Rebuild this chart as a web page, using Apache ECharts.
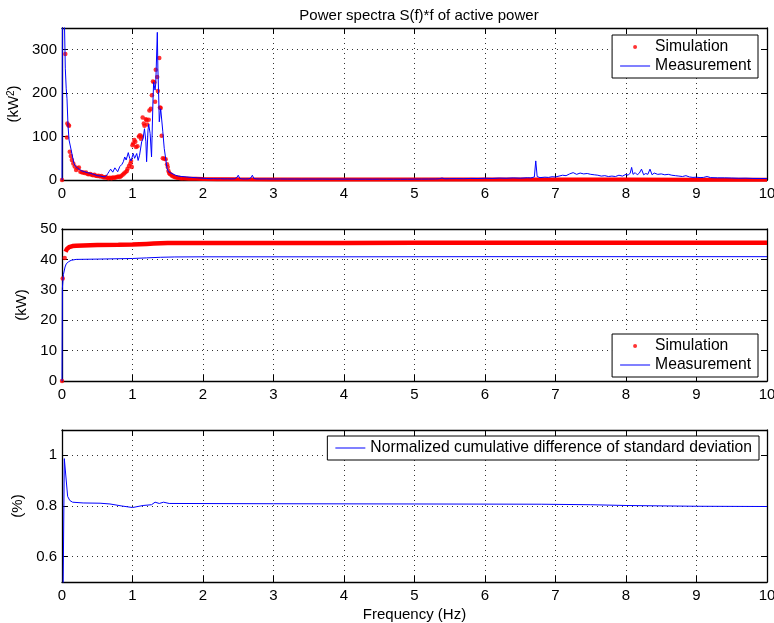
<!DOCTYPE html>
<html><head><meta charset="utf-8">
<script src="https://cdn.jsdelivr.net/npm/echarts@6/dist/echarts.min.js"></script>
<style>html,body{margin:0;padding:0;background:#fff}#c{width:774px;height:623px}</style>
</head><body><div id="c"></div>
<script>
// ---------- DATA ----------
const xTickValues = [0,1,2,3,4,5,6,7,8,9,10];
const psdTicks = [0,100,200,300];
const cumTicks = [0,10,20,30,40,50];
const diffTicks = [0.6,0.8,1];

// Top: power spectrum S(f)*f, simulation (dots)
const simPsdFreq = [0,0.047,0.07,0.076,0.09,0.1,0.11,0.125,0.14,0.16,0.18,0.2,0.22,0.24,0.26,0.28,0.3,0.32,0.34,0.36,0.38,0.4,0.42,0.44,0.46,0.48,0.5,0.52,0.54,0.56,0.58,0.6,0.62,0.64,0.66,0.68,0.7,0.72,0.74,0.76,0.78,0.8,0.82,0.84,0.86,0.88,0.9,0.92,0.93,0.95,0.97,0.98,0.99,1.0,1.01,1.026,1.04,1.05,1.07,1.09,1.106,1.12,1.13,1.144,1.16,1.17,1.19,1.2,1.21,1.23,1.24,1.26,1.275,1.29,1.31,1.32,1.33,1.35,1.36,1.38,1.39,1.4,1.414,1.43,1.45,1.47,1.49,1.5,1.51,1.52,1.53,1.55,1.56,1.58,1.6,1.62,1.64,1.66,1.68,1.7];
const simPsdVal  = [0,290,98,130,126,125,65,55,46,38,31,23,27,29,19,18,17,16,17,14,13,14,12,11,12,10,9,10,8,9,7,6,7,5,4,5,4,6,5,6,7,8,7,9,12,15,18,21,26,32,38,44,30,80,84,92,88,76,78,100,103,95,100,144,130,125,140,138,128,139,160,164,195,227,225,180,254,237,205,281,167,166,102,50,49,48,36,30,21,16,14,12,10,8,7,6,5,5,4,4];
// Top: simulation dots from 1.7 Hz on, so dense they merge into a band
const simPsdTailFreq = [1.7,1.75,1.8,1.9,2.0,2.2,2.5,3.0,3.5,4.0,4.5,5.0,6.0,7.0,8.0,9.0,10.0];
const simPsdTailVal  = [4,3.5,3,2.6,2.2,1.9,1.6,1.4,1.3,1.2,1.0,0.9,0.9,0.9,0.9,0.8,0.8];
// Top: measurement (line)
const measPsdFreq = [0,0.012,0.028,0.047,0.06,0.071,0.085,0.1,0.12,0.13,0.15,0.17,0.19,0.22,0.25,0.28,0.32,0.36,0.41,0.45,0.5,0.55,0.6,0.63,0.65,0.67,0.69,0.72,0.75,0.77,0.79,0.82,0.85,0.87,0.89,0.91,0.92,0.94,0.96,0.98,1.0,1.01,1.03,1.06,1.08,1.1,1.13,1.15,1.17,1.19,1.2,1.22,1.23,1.25,1.27,1.29,1.3,1.32,1.33,1.352,1.36,1.37,1.38,1.4,1.43,1.45,1.47,1.49,1.51,1.53,1.56,1.61,1.65,1.7,1.77,1.84,1.92,2.0,
  2.05,2.1,2.15,2.2,2.25,2.3,2.35,2.4,2.45,2.48,2.5,2.52,2.55,2.6,2.65,2.68,2.7,2.72,2.75,2.8,2.9,3.0,3.1,3.2,3.3,3.4,3.5,3.6,3.7,3.8,3.9,4.0,4.1,4.2,4.3,4.4,4.5,4.6,4.7,4.8,4.9,5.0,5.1,5.2,5.3,5.35,5.39,5.43,5.5,5.6,5.7,5.8,5.9,6.0,6.1,6.2,6.3,6.4,6.5,6.6,6.65,6.7,6.72,6.74,6.78,6.85,6.9,6.95,7.0,7.05,7.1,7.15,7.2,7.25,7.3,7.35,7.4,7.45,7.5,7.55,7.6,7.65,7.7,7.75,7.8,7.85,7.9,7.95,8.0,8.03,8.06,8.08,8.1,8.13,8.16,8.19,8.22,8.25,8.28,8.31,8.34,8.37,8.4,8.45,8.5,8.55,8.6,8.65,8.7,8.75,8.8,8.85,8.9,8.95,9.0,9.05,9.1,9.15,9.2,9.3,9.4,9.5,9.6,9.7,9.8,9.9,10.0];
const measPsdVal  = [0,700,420,256,210,187,126,92,88,69,53,38,32,27,24,21,19,17,15,13,10,9,7,10,15,20,25,18,28,24,19,31,36,42,53,46,44,63,50,44,48,61,50,61,45,57,88,95,118,88,42,115,128,107,53,180,225,207,222,340,256,203,134,164,111,73,50,27,19,17,15,11,9,8,7,6,5,4,
  3.5,3,3.2,2.8,3,2.6,2.8,2.5,2.8,6,11,4,2.6,2.5,2.7,5,11,4,2.6,2.4,2.5,2.3,2.4,2.2,2.3,2.1,2.2,2.1,2.2,2.0,2.1,2.0,2.1,1.9,2.0,1.9,2.0,1.8,1.9,1.8,1.9,2.0,2.1,2.2,2.4,2.8,4.5,2.8,3,3.2,3,3.6,3.4,4,3.6,4.4,4,4.8,4.2,5.2,4.8,7,44,8,5.5,6.5,6,7.5,7,9,11,10,14,17,13,16,14,15,13,12,11,9,10,8,9,8,11,9,13,11,16,29,13,17,12,16,25,12,15,13,25,12,16,13,14,12,13,11,10,9,8,10,7,6,6.5,5.5,6,8,5.5,5,5,4.5,4,4.2,3.6,3.5,3.2];

// Middle: cumulative (kW)
const simCumDotFreq = [0,0.01,0.038];
const simCumDotVal  = [0,33.7,40.5];
const simCumFreq = [0.05,0.06,0.07,0.085,0.1,0.12,0.15,0.2,0.3,0.5,0.8,1.0,1.1,1.2,1.3,1.4,1.5,1.6,2.0,3.0,4.0,5.0,6.0,7.0,8.0,9.0,10.0];
const simCumVal  = [42.5,43.0,43.4,43.8,44.0,44.2,44.4,44.5,44.6,44.7,44.8,44.9,45.0,45.1,45.2,45.3,45.4,45.4,45.4,45.4,45.4,45.45,45.45,45.45,45.45,45.45,45.45];
const measCumFreq = [0,0.005,0.02,0.043,0.06,0.09,0.13,0.2,0.5,1.0,1.2,1.4,1.6,2.0,4.0,6.0,8.0,10.0];
const measCumVal  = [0,30.5,35,37.5,38.5,39.2,39.7,40.0,40.1,40.3,40.5,40.7,40.8,40.85,40.85,40.9,40.9,40.9];

// Bottom: normalized cumulative difference (%)
const diffFreq = [0,0.033,0.08,0.11,0.15,0.3,0.54,0.68,0.85,1.0,1.15,1.27,1.32,1.38,1.44,1.52,3.0,5.0,6.8,7.5,8.0,9.0,10.0];
const diffVal  = [0,0.987,0.838,0.822,0.815,0.812,0.811,0.808,0.8,0.794,0.802,0.805,0.815,0.81,0.815,0.81,0.809,0.808,0.807,0.805,0.802,0.799,0.798];

// ---------- CHART ----------
const FONT = 'Liberation Sans, Arial, Helvetica, sans-serif';
const FS = 15;
const zip = (xs, ys) => xs.map((x, i) => [x, ys[i]]);
const grids = [
  {left:62, top:28, width:705, height:152},
  {left:62, top:229, width:705, height:152},
  {left:62, top:430, width:705, height:152}
].map(g => Object.assign(g, {containLabel:false, outerBoundsMode:'none'}));

const axisLine = {onZero:false, lineStyle:{color:'#000', width:1.3}};
const tick = {inside:true, length:6, lineStyle:{color:'#000', width:1}};
const split = {show:true, lineStyle:{color:'#333', type:[1,4], width:1}};
const lbl = {color:'#000', fontSize:FS, fontFamily:FONT};

const xAxis = [], yAxis = [];
function addAxes(g, ymin, ymax, yTicks, yName, yGap, xName) {
  xAxis.push({gridIndex:g, type:'value', min:0, max:10, interval:1, position:'bottom',
    axisLine, axisTick:tick, splitLine:split,
    axisLabel:Object.assign({margin:6}, lbl),
    name:xName || '', nameLocation:'middle', nameGap:25,
    nameTextStyle:{color:'#000', fontSize:FS, fontFamily:FONT}});
  xAxis.push({gridIndex:g, type:'value', min:0, max:10, interval:1, position:'top',
    axisLine, axisTick:tick, splitLine:{show:false}, axisLabel:{show:false}});
  yAxis.push({gridIndex:g, type:'value', min:ymin, max:ymax, position:'left',
    axisLine, axisTick:Object.assign({customValues:yTicks}, tick), splitLine:split,
    axisLabel:Object.assign({margin:5, customValues:yTicks}, lbl),
    name:yName, nameLocation:'middle', nameGap:yGap, nameRotate:90,
    nameTextStyle:{color:'#000', fontSize:FS, fontFamily:FONT,
      rich:{sup:{fontSize:10, verticalAlign:'top', color:'#000', fontFamily:FONT}}}});
  yAxis.push({gridIndex:g, type:'value', min:ymin, max:ymax, position:'right',
    axisLine, axisTick:Object.assign({customValues:yTicks}, tick), splitLine:{show:false},
    axisLabel:{show:false, customValues:yTicks}});
}
addAxes(0, 0, 350, psdTicks, '(kW{sup|2})', 38);
addAxes(1, 0, 50, cumTicks, '(kW)', 30);
addAxes(2, 0.5, 1.1, diffTicks, '(%)', 34, 'Frequency (Hz)');

const RED = '#ff0000', BLUE = '#0000ff';
const LINE_ICON = 'path://M0,0 H30 V1 H0 Z';
const legendBase = {orient:'vertical', itemWidth:30, itemHeight:4, itemGap:3,
  padding:[4,7,4,8], borderColor:'#000', borderWidth:1, borderRadius:0,
  backgroundColor:'#fff', selectedMode:false,
  textStyle:{fontSize:15.7, color:'#000', fontFamily:FONT}};
const simMeasLegend = [{name:'Simulation', icon:'circle'}, {name:'Measurement', icon:LINE_ICON}];

const option = {
  animation:false,
  backgroundColor:'#fff',
  title:{text:'Power spectra S(f)*f of active power', left:414, textAlign:'center', top:3,
    textStyle:{fontSize:FS, fontWeight:'normal', color:'#000', fontFamily:FONT}},
  grid:grids,
  xAxis, yAxis,
  legend:[
    Object.assign({}, legendBase, {right:16, top:35, data:simMeasLegend}),
    Object.assign({}, legendBase, {right:16, top:334, data:simMeasLegend}),
    Object.assign({}, legendBase, {right:15, top:436, data:[{name:'Normalized cumulative difference of standard deviation', icon:LINE_ICON}]})
  ],
  series:[
    {name:'Simulation', type:'scatter', xAxisIndex:0, yAxisIndex:0, symbol:'circle', symbolSize:4.5,
      itemStyle:{color:RED}, data:zip(simPsdFreq, simPsdVal)},
    {name:'Simulation', type:'line', xAxisIndex:0, yAxisIndex:0, symbol:'none', clip:false,
      lineStyle:{color:RED, width:4}, itemStyle:{color:RED}, data:zip(simPsdTailFreq, simPsdTailVal)},
    {name:'Measurement', type:'line', xAxisIndex:0, yAxisIndex:0, symbol:'none',
      lineStyle:{color:BLUE, width:1}, itemStyle:{color:BLUE}, data:zip(measPsdFreq, measPsdVal)},

    {name:'Simulation', type:'scatter', xAxisIndex:2, yAxisIndex:2, symbol:'circle', symbolSize:4.5,
      itemStyle:{color:RED}, data:zip(simCumDotFreq, simCumDotVal)},
    {name:'Simulation', type:'line', xAxisIndex:2, yAxisIndex:2, symbol:'none',
      lineStyle:{color:RED, width:4.5}, itemStyle:{color:RED}, data:zip(simCumFreq, simCumVal)},
    {name:'Measurement', type:'line', xAxisIndex:2, yAxisIndex:2, symbol:'none',
      lineStyle:{color:BLUE, width:1}, itemStyle:{color:BLUE}, data:zip(measCumFreq, measCumVal)},

    {name:'Normalized cumulative difference of standard deviation', type:'line', xAxisIndex:4, yAxisIndex:4,
      symbol:'none', lineStyle:{color:BLUE, width:1}, itemStyle:{color:BLUE}, data:zip(diffFreq, diffVal)}
  ]
};
const chart = echarts.init(document.getElementById('c'), null, {renderer:'canvas'});
chart.setOption(option);
</script></body></html>
